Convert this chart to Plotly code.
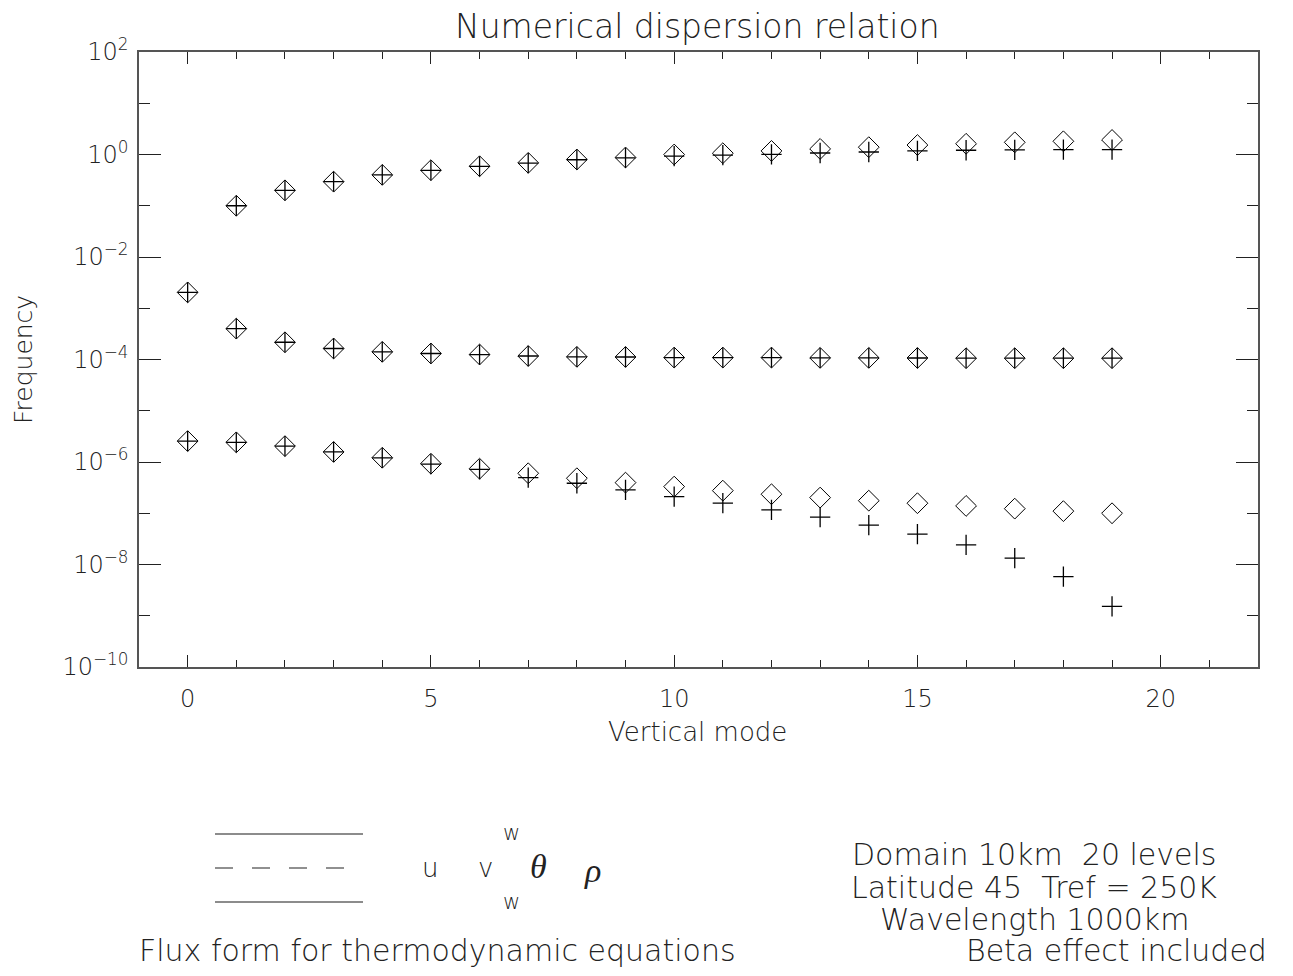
import plotly.graph_objects as go

# ---------------- data ----------------
modes = list(range(20))
modes_from1 = list(range(1, 20))

fast_diamond = [0.10, 0.20, 0.295, 0.40, 0.494, 0.59, 0.687, 0.80, 0.875, 1.0,
                1.06, 1.175, 1.285, 1.39, 1.53, 1.62, 1.73, 1.81, 1.92]
fast_plus = [0.10, 0.20, 0.295, 0.40, 0.49, 0.585, 0.68, 0.79, 0.86, 0.93,
             0.97, 1.01, 1.07, 1.12, 1.175, 1.21, 1.23, 1.25, 1.25]

mid_diamond = [2.04e-3, 4.0e-4, 2.17e-4, 1.64e-4, 1.41e-4, 1.31e-4, 1.25e-4, 1.17e-4,
               1.125e-4, 1.12e-4, 1.09e-4, 1.09e-4, 1.09e-4, 1.075e-4, 1.075e-4,
               1.07e-4, 1.06e-4, 1.06e-4, 1.06e-4, 1.06e-4]
mid_plus = [2.04e-3, 4.0e-4, 2.17e-4, 1.64e-4, 1.41e-4, 1.31e-4, 1.25e-4, 1.17e-4,
            1.125e-4, 1.12e-4, 1.09e-4, 1.09e-4, 1.09e-4, 1.075e-4, 1.075e-4,
            1.07e-4, 1.06e-4, 1.06e-4, 1.06e-4, 1.06e-4]

slow_diamond = [2.56e-6, 2.42e-6, 2.04e-6, 1.57e-6, 1.21e-6, 9.27e-7, 7.4e-7, 6.03e-7,
                4.82e-7, 3.96e-7, 3.31e-7, 2.76e-7, 2.35e-7, 2.02e-7, 1.76e-7, 1.57e-7,
                1.39e-7, 1.23e-7, 1.10e-7, 1.0e-7]
slow_plus = [2.56e-6, 2.42e-6, 2.04e-6, 1.57e-6, 1.2e-6, 9.1e-7, 7.2e-7, 4.95e-7,
             3.85e-7, 2.85e-7, 2.11e-7, 1.57e-7, 1.16e-7, 8.4e-8, 5.85e-8, 3.9e-8,
             2.42e-8, 1.33e-8, 5.8e-9, 1.52e-9]

x_ticks = [0, 5, 10, 15, 20]
y_major = [1e-10, 1e-8, 1e-6, 1e-4, 1e-2, 1e0, 1e2]
y_major_text = ["10<sup>\u221210</sup>", "10<sup>\u22128</sup>", "10<sup>\u22126</sup>",
                "10<sup>\u22124</sup>", "10<sup>\u22122</sup>", "10<sup>0</sup>", "10<sup>2</sup>"]
y_minor = [1e-9, 1e-7, 1e-5, 1e-3, 1e-1, 1e1]

# ---------------- styling ----------------
OFF = 8                      # page body margin of the html page
W, H = 1293 - 2 * OFF, 976 - 2 * OFF
L, R, T, B = 139 - OFF, 1258 - OFF, 52 - OFF, 667 - OFF
FONT = "DejaVu Sans"
WEIGHT = 200
TXT = "#222222"
AX = "#555555"


def px(x):
    return (x - OFF - L) / (R - L)


def py(y):
    return (B - (y - OFF)) / (B - T)


fig = go.Figure()

diamond_style = dict(symbol="diamond-open", size=16, color="black", line=dict(width=1, color="black"))
plus_style = dict(symbol="cross-thin-open", size=14.5, color="black", line=dict(width=1.3, color="black"))

for xs, ys in [(modes_from1, fast_diamond), (modes, mid_diamond), (modes, slow_diamond)]:
    fig.add_trace(go.Scatter(x=xs, y=ys, mode="markers", marker=diamond_style,
                             showlegend=False, hoverinfo="x+y"))
for xs, ys in [(modes_from1, fast_plus), (modes, mid_plus), (modes, slow_plus)]:
    fig.add_trace(go.Scatter(x=xs, y=ys, mode="markers", marker=plus_style,
                             showlegend=False, hoverinfo="x+y"))

tickfont = dict(size=24, family=FONT, color=TXT, weight=WEIGHT)

fig.update_layout(
    width=W, height=H,
    margin=dict(l=L, r=W - R, t=T, b=H - B),
    paper_bgcolor="white", plot_bgcolor="white",
    font=dict(family=FONT, color=TXT, size=24, weight=WEIGHT),
    xaxis=dict(range=[-1, 22], tickmode="array", tickvals=x_ticks,
               ticks="inside", ticklen=12, tickwidth=1, tickcolor=TXT,
               minor=dict(dtick=1, tick0=0, ticks="inside", ticklen=7, tickwidth=1, tickcolor=TXT),
               showline=True, linecolor=AX, linewidth=1.5, mirror="ticks",
               showgrid=False, zeroline=False, ticklabelstandoff=9,
               tickfont=tickfont),
    yaxis=dict(type="log", range=[-10, 2], tickmode="array", tickvals=y_major,
               ticktext=y_major_text,
               ticks="inside", ticklen=22, tickwidth=1, tickcolor=TXT,
               minor=dict(tickmode="array", tickvals=y_minor, ticks="inside",
                          ticklen=11, tickwidth=1, tickcolor=TXT),
               showline=True, linecolor=AX, linewidth=1.5, mirror="ticks",
               showgrid=False, zeroline=False, ticklabelstandoff=4,
               tickfont=tickfont),
)

ann = []


def text(x, y, s, size, family=FONT, weight=WEIGHT, **kw):
    d = dict(x=px(x), y=py(y), xref="paper", yref="paper", text=s, showarrow=False,
             xanchor="center", yanchor="middle",
             font=dict(family=family, size=size, color=TXT, weight=weight))
    d.update(kw)
    ann.append(d)


text(697, 26, "Numerical dispersion relation", 33)
text(697, 732, "Vertical mode", 26)
text(24, 360, "Frequency", 25, textangle=-90)

# legend-like block
text(430, 868, "u", 26)
text(485, 868, "v", 26)
text(511, 833, "w", 21)
text(511, 902, "w", 21)
text(538, 866, "<i>\u03b8</i>", 34, family="Liberation Serif", weight=400)
text(592, 870, "<i>\u03c1</i>", 34, family="Liberation Serif", weight=400)

# right-hand info block
NB = "\u00a0"
text(1034, 854, f"Domain 10km{NB}{NB}20 levels", 30)
text(1034, 887, f"Latitude 45{NB}{NB}Tref = 250K", 30)
text(1034, 919, "Wavelength 1000km", 30)
text(1116, 950, "Beta effect included", 30)
text(437, 950, "Flux form for thermodynamic equations", 30)

fig.update_layout(annotations=ann)

shapes = [
    dict(type="line", xref="paper", yref="paper", x0=px(215), x1=px(363), y0=py(834), y1=py(834),
         line=dict(color="#666666", width=1.5)),
    dict(type="line", xref="paper", yref="paper", x0=px(215), x1=px(347), y0=py(868), y1=py(868),
         line=dict(color="#222222", width=1.2, dash="18px,19px")),
    dict(type="line", xref="paper", yref="paper", x0=px(215), x1=px(363), y0=py(902), y1=py(902),
         line=dict(color="#666666", width=1.5)),
]
fig.update_layout(shapes=shapes)

fig.write_html("out.html")
